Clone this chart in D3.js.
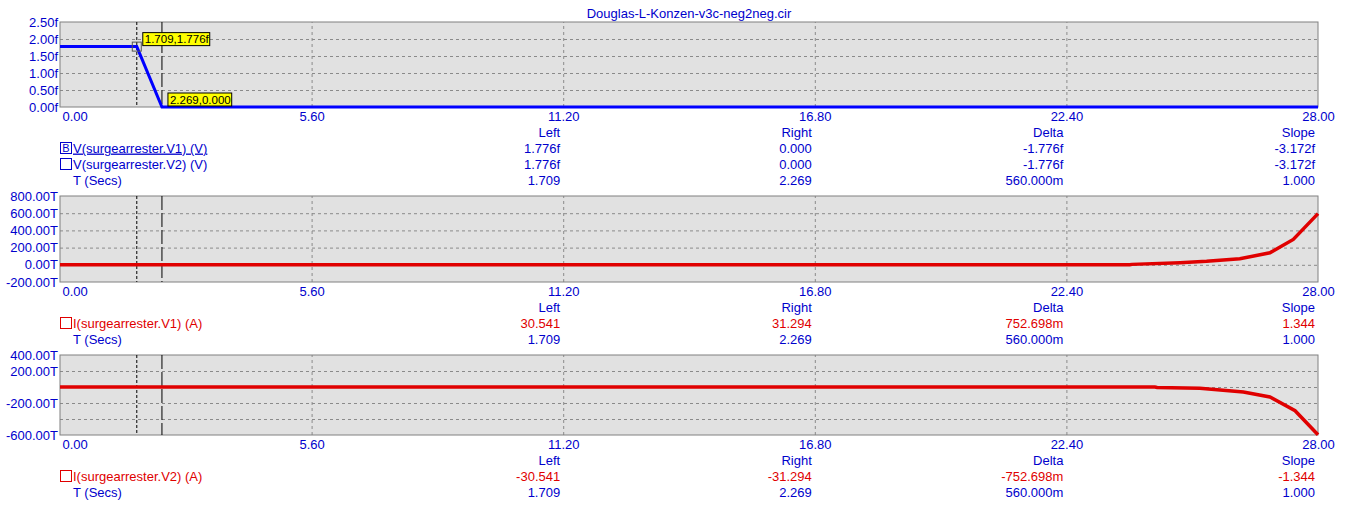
<html>
<head>
    <script src="https://d3js.org/d3.v7.min.js"></script>
    <style>
        body { margin: 0; background: #fff; }
        text { font-family: "Liberation Sans", Arial, sans-serif; font-size: 13px; }
    </style>
</head>
<body>
    <svg id="chart" width="1353" height="513"></svg>
    <script>
        // data
        const title = "Douglas-L-Konzen-v3c-neg2neg.cir";
        const timeTicks = [0, 5.6, 11.2, 16.8, 22.4, 28];
        const timeTickLabels = ["0.00", "5.60", "11.20", "16.80", "22.40", "28.00"];
        const cursorLeft = 1.709;
        const cursorRight = 2.269;

        const v1Time = [0, 1.709, 2.269, 28];
        const v1Vals = [1.776, 1.776, 0, 0];               // f
        const i1Time = [0, 23.81, 23.86, 24.93, 25.52, 26.26, 26.93, 27.45, 28];
        const i1Vals = [0, 0, 5, 25, 40, 70, 140, 295, 595]; // T
        const i2Time = [0, 24.37, 24.42, 25.37, 26.34, 26.93, 27.49, 28];
        const i2Vals = [0, 0, -5, -17, -62, -125, -296, -596]; // T

        const vTicks = [0, 0.5, 1, 1.5, 2, 2.5];
        const vTickLabels = ["0.00f", "0.50f", "1.00f", "1.50f", "2.00f", "2.50f"];
        const i1Ticks = [-200, 0, 200, 400, 600, 800];
        const i1TickLabels = ["-200.00T", "0.00T", "200.00T", "400.00T", "600.00T", "800.00T"];
        const i2Ticks = [-600, -400, -200, 0, 200, 400];
        const i2TickLabels = ["-600.00T", "", "-200.00T", "", "200.00T", "400.00T"];

        const colHeads = ["Left", "Right", "Delta", "Slope"];
        const v1Row = ["1.776f", "0.000", "-1.776f", "-3.172f"];
        const v2Row = ["1.776f", "0.000", "-1.776f", "-3.172f"];
        const i1Row = ["30.541", "31.294", "752.698m", "1.344"];
        const i2Row = ["-30.541", "-31.294", "-752.698m", "-1.344"];
        const tRow = ["1.709", "2.269", "560.000m", "1.000"];

        const blue = "#0000cc";
        const red = "#e00000";

        const svg = d3.select("#chart");
        const x = d3.scaleLinear().domain([0, 28]).range([60, 1318]);

        svg.append("text")
            .attr("x", 689).attr("y", 13).attr("dy", "0.35em")
            .attr("text-anchor", "middle").attr("fill", blue)
            .text(title);

        const panels = [
            {
                top: 22, bottom: 107, ticks: vTicks, labels: vTickLabels,
                series: [{ t: v1Time, v: v1Vals, color: "#0000ff", width: 3 }],
                rows: [
                    { name: "V(surgearrester.V1) (V)", box: "B", underline: true, color: blue, vals: v1Row },
                    { name: "V(surgearrester.V2) (V)", box: "", color: blue, vals: v2Row },
                    { name: "T (Secs)", color: blue, vals: tRow }
                ],
                flags: true
            },
            {
                top: 196, bottom: 282, ticks: i1Ticks, labels: i1TickLabels,
                series: [{ t: i1Time, v: i1Vals, color: red, width: 3.5 }],
                rows: [
                    { name: "I(surgearrester.V1) (A)", box: "", color: red, vals: i1Row },
                    { name: "T (Secs)", color: blue, vals: tRow }
                ]
            },
            {
                top: 355, bottom: 435, ticks: i2Ticks, labels: i2TickLabels,
                series: [{ t: i2Time, v: i2Vals, color: red, width: 3.5 }],
                rows: [
                    { name: "I(surgearrester.V2) (A)", box: "", color: red, vals: i2Row },
                    { name: "T (Secs)", color: blue, vals: tRow }
                ]
            }
        ];

        panels.forEach((p) => {
            const y = d3.scaleLinear()
                .domain([p.ticks[0], p.ticks[p.ticks.length - 1]])
                .range([p.bottom, p.top]);
            const g = svg.append("g");

            g.append("rect")
                .attr("x", x(0)).attr("y", p.top)
                .attr("width", x(28) - x(0)).attr("height", p.bottom - p.top)
                .attr("fill", "#e1e1e1");

            // gridlines
            g.append("g")
                .attr("transform", "translate(" + x(0) + ",0)")
                .call(d3.axisLeft(y).tickValues(p.ticks.slice(1, -1)).tickSize(-(x(28) - x(0))).tickFormat(""))
                .call(s => s.select(".domain").remove())
                .selectAll("line").attr("stroke", "#8a8a8a").attr("stroke-dasharray", "3,3");
            g.append("g")
                .attr("transform", "translate(0," + p.bottom + ")")
                .call(d3.axisBottom(x).tickValues(timeTicks.slice(1, -1)).tickSize(-(p.bottom - p.top)).tickFormat(""))
                .call(s => s.select(".domain").remove())
                .selectAll("line").attr("stroke", "#8a8a8a").attr("stroke-dasharray", "3,3");

            g.append("rect")
                .attr("x", x(0)).attr("y", p.top)
                .attr("width", x(28) - x(0)).attr("height", p.bottom - p.top)
                .attr("fill", "none").attr("stroke", "#808080");

            // cursors
            g.append("line")
                .attr("x1", x(cursorLeft)).attr("x2", x(cursorLeft))
                .attr("y1", p.top).attr("y2", p.bottom)
                .attr("stroke", "#000").attr("stroke-dasharray", "3,2");
            g.append("line")
                .attr("x1", x(cursorRight)).attr("x2", x(cursorRight))
                .attr("y1", p.top).attr("y2", p.bottom)
                .attr("stroke", "#000").attr("stroke-dasharray", "14,3");

            // series
            p.series.forEach((s) => {
                const pts = s.t.map((t, i) => [t, s.v[i]]);
                g.append("path")
                    .datum(pts)
                    .attr("fill", "none")
                    .attr("stroke", s.color)
                    .attr("stroke-width", s.width)
                    .attr("d", d3.line().x(d => x(d[0])).y(d => y(d[1])));
            });

            // y labels
            g.append("g")
                .attr("transform", "translate(" + x(0) + ",0)")
                .call(d3.axisLeft(y).tickValues(p.ticks).tickSize(0).tickPadding(2)
                    .tickFormat((d, i) => p.labels[i]))
                .call(s => s.select(".domain").remove())
                .selectAll("text")
                .attr("fill", blue)
                .style("font-size", "13px")
                .style("font-family", "'Liberation Sans', Arial, sans-serif");

            // x labels
            const xa = g.append("g")
                .attr("transform", "translate(0," + (p.bottom + 5) + ")")
                .call(d3.axisBottom(x).tickValues(timeTicks).tickSize(0).tickPadding(0)
                    .tickFormat((d, i) => timeTickLabels[i]))
                .call(s => s.select(".domain").remove());
            xa.selectAll("text")
                .attr("fill", blue)
                .style("font-size", "13px")
                .style("font-family", "'Liberation Sans', Arial, sans-serif");
            xa.select(".tick text").attr("text-anchor", "start").attr("x", 2);

            // cursor flags
            if (p.flags) {
                const sy = y(1.776);
                g.append("rect")
                    .attr("x", x(cursorLeft) - 4.5).attr("y", sy - 4.5)
                    .attr("width", 9).attr("height", 9)
                    .attr("fill", "none").attr("stroke", "#555");
                [[cursorLeft, 1.776, "1.709,1.776f"], [cursorRight, 0, "2.269,0.000"]].forEach((f) => {
                    const fx = x(f[0]) + 6, fy = y(f[1]) - 1;
                    const fg = g.append("g");
                    const rect = fg.append("rect").attr("fill", "#ffff00").attr("stroke", "#000");
                    const txt = fg.append("text")
                        .attr("x", fx + 2).attr("y", fy - 6.5).attr("dy", "0.35em")
                        .attr("fill", "#000").style("font-size", "11.5px")
                        .text(f[2]);
                    const w = txt.node().getComputedTextLength();
                    rect.attr("x", fx).attr("y", fy - 13).attr("width", w + 3).attr("height", 13);
                });
            }

            // readout table
            const headY = p.bottom + 25;
            const colX = [11.2, 16.8, 22.4, 28].map(t => x(t) - 3);
            colHeads.forEach((h, i) => {
                g.append("text")
                    .attr("x", colX[i]).attr("y", headY).attr("dy", "0.35em")
                    .attr("text-anchor", "end").attr("fill", blue).text(h);
            });
            p.rows.forEach((r, j) => {
                const ry = headY + 16 * (j + 1);
                if (r.box !== undefined) {
                    g.append("rect")
                        .attr("x", 60.5).attr("y", ry - 5.5)
                        .attr("width", 11).attr("height", 11)
                        .attr("fill", "none").attr("stroke", r.color);
                    if (r.box) {
                        g.append("text")
                            .attr("x", 66).attr("y", ry).attr("dy", "0.35em")
                            .attr("text-anchor", "middle").attr("fill", r.color)
                            .style("font-size", "11px").text(r.box);
                    }
                }
                g.append("text")
                    .attr("x", 73).attr("y", ry).attr("dy", "0.35em")
                    .attr("fill", r.color)
                    .style("text-decoration", r.underline ? "underline" : "none")
                    .text(r.name);
                r.vals.forEach((v, i) => {
                    g.append("text")
                        .attr("x", colX[i]).attr("y", ry).attr("dy", "0.35em")
                        .attr("text-anchor", "end").attr("fill", r.color).text(v);
                });
            });
        });
    </script>
</body>
</html>
